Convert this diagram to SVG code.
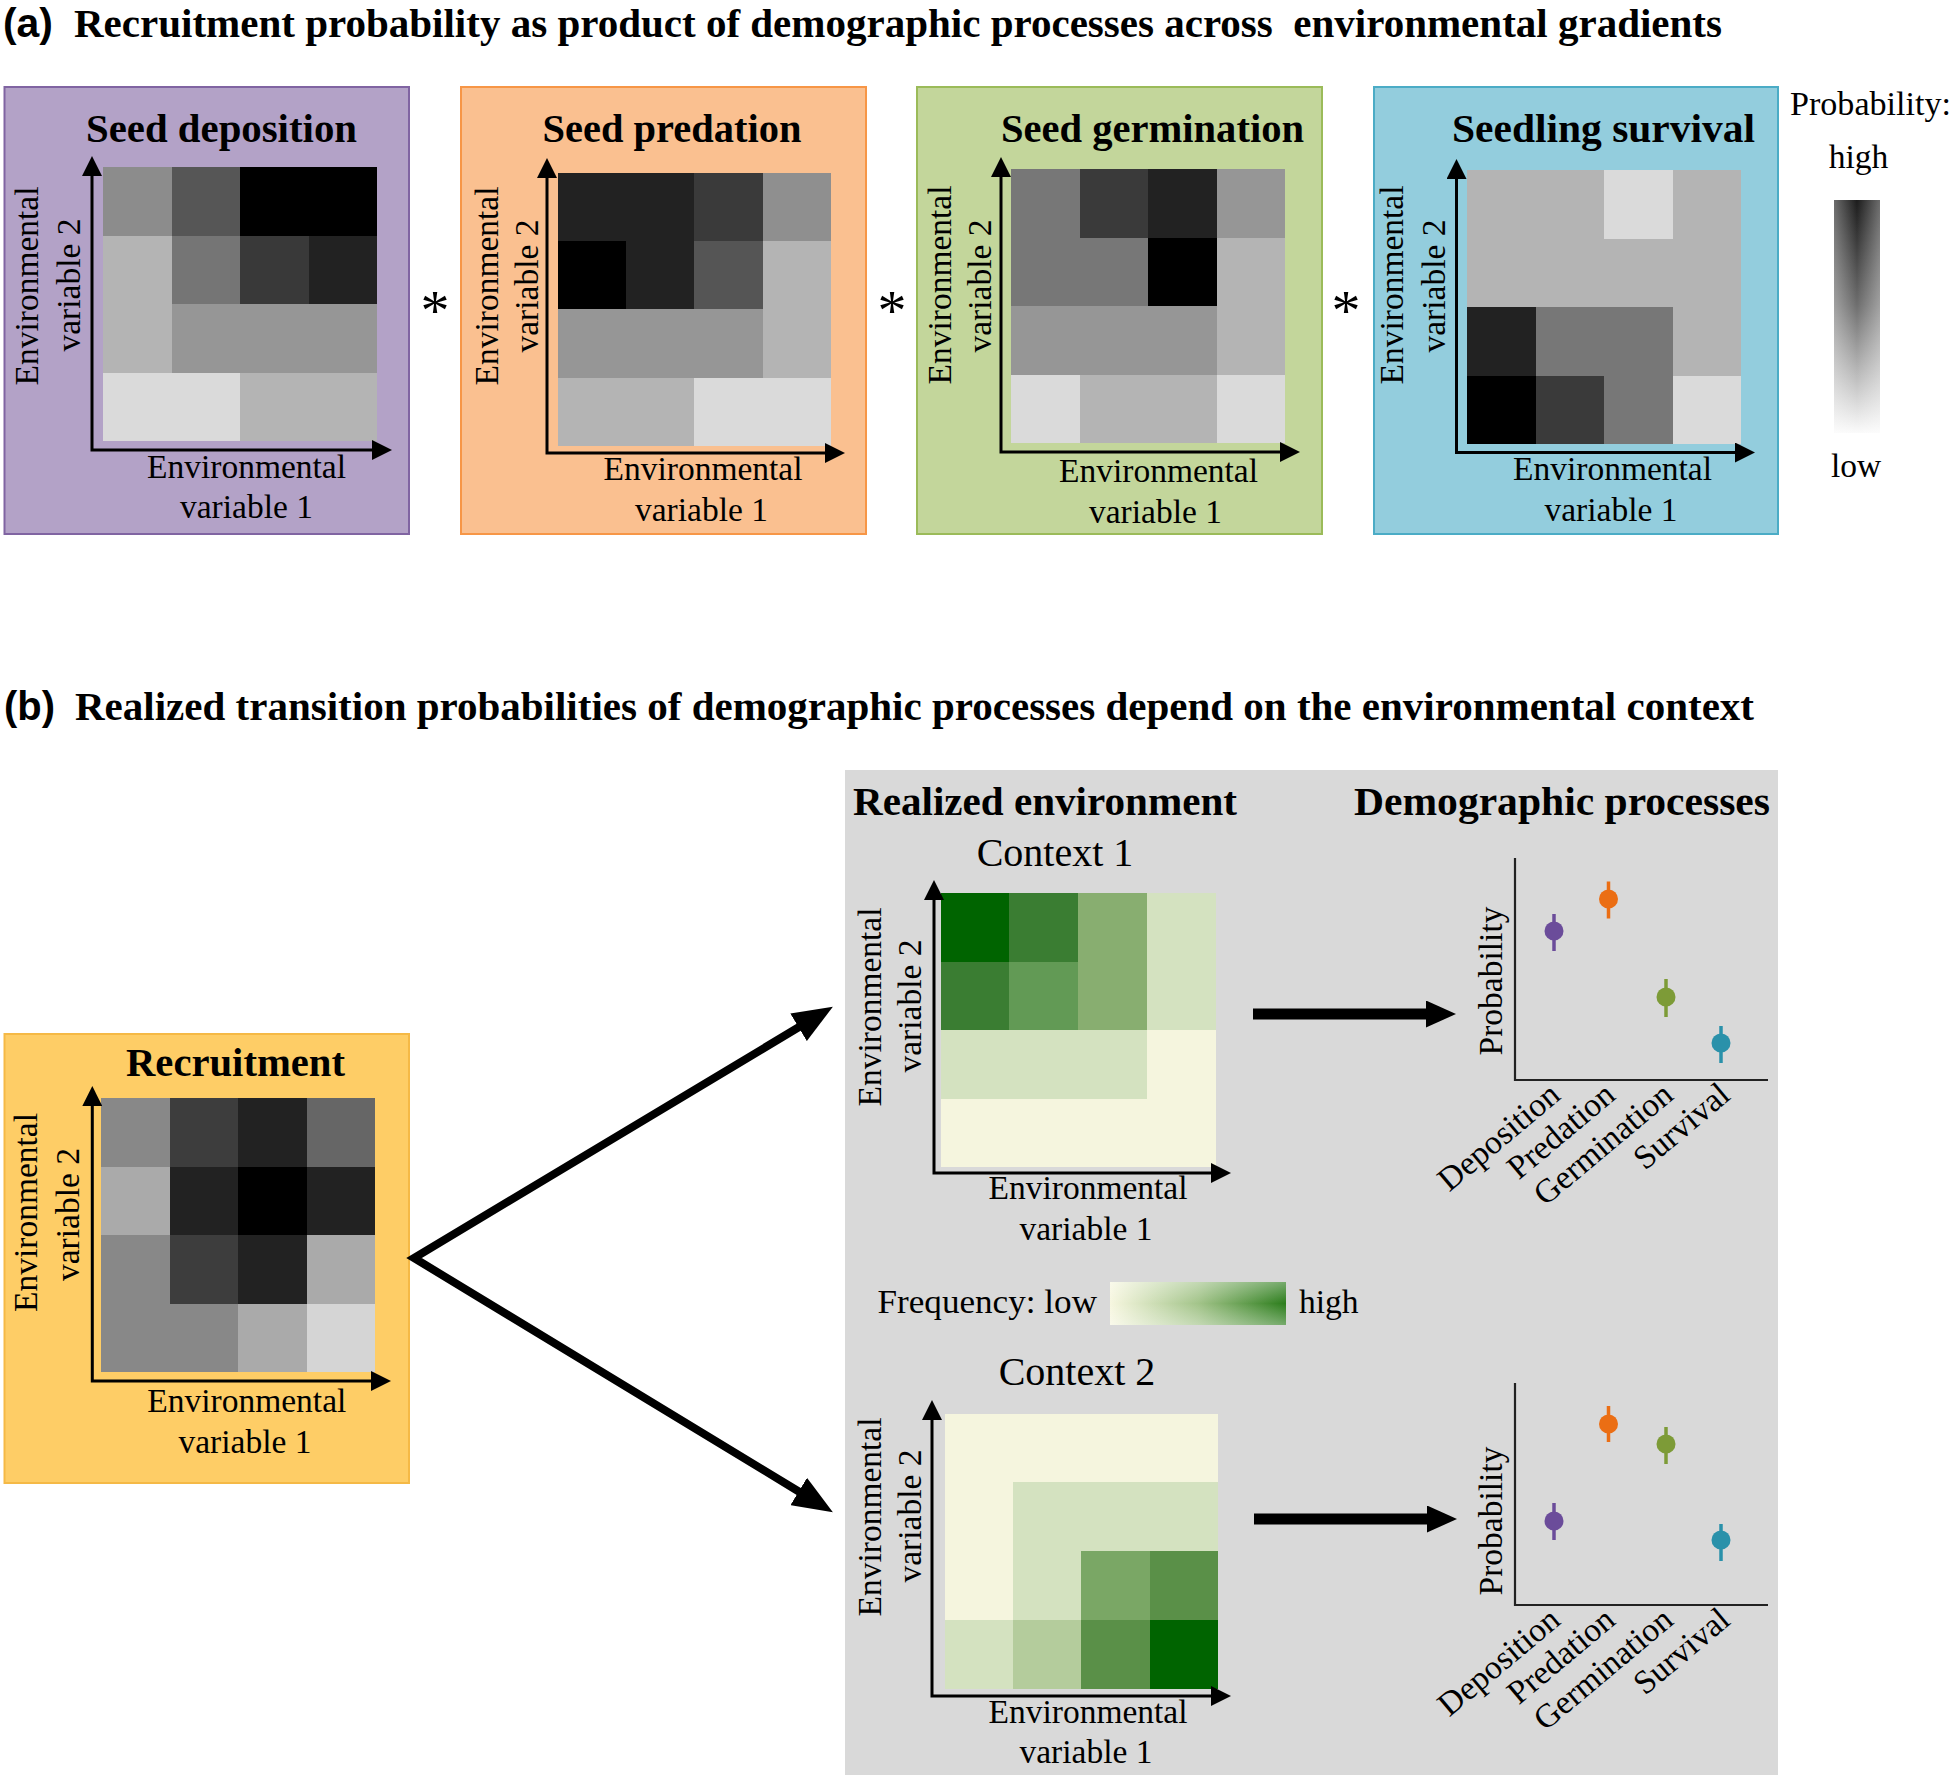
<svg xmlns="http://www.w3.org/2000/svg" width="1955" height="1780" viewBox="0 0 1955 1780">
<style>
.t{font-family:"Liberation Serif","Times New Roman",serif;fill:#000}
.b{font-weight:bold;font-size:40px}
.r{font-size:33.5px}
.c{font-size:40px}
.m{text-anchor:middle}
.e{text-anchor:end}
.ast{font-size:58px}
.lbl{font-family:"Liberation Sans",Arial,sans-serif;font-weight:bold;font-size:40px}
.ax{fill:none;stroke:#000;stroke-width:3;marker-start:url(#ah);marker-end:url(#ah)}
.pax{fill:none;stroke:#222;stroke-width:2.2}
.cell rect{shape-rendering:crispEdges}
</style>
<defs>
<marker id="ah" markerUnits="userSpaceOnUse" markerWidth="20" markerHeight="20" viewBox="0 0 20 20" refX="10" refY="10" orient="auto-start-reverse"><path d="M0,0 L20,10 L0,20 z" fill="#000"/></marker>
<marker id="bh" markerUnits="userSpaceOnUse" markerWidth="30" markerHeight="27" viewBox="0 0 30 27" refX="1" refY="13.5" orient="auto-start-reverse"><path d="M0,0 L30,13.5 L0,27 z" fill="#000"/></marker>
<marker id="dh" markerUnits="userSpaceOnUse" markerWidth="40" markerHeight="32" viewBox="0 0 40 32" refX="2" refY="16" orient="auto-start-reverse"><path d="M0,0 L40,16 L0,32 z" fill="#000"/></marker>
<linearGradient id="pg" x1="0" y1="0" x2="0" y2="1"><stop offset="0" stop-color="#1c1c1c"/><stop offset="0.45" stop-color="#6e6e6e"/><stop offset="1" stop-color="#fbfbfb"/></linearGradient>
<linearGradient id="ph" x1="0" y1="0" x2="1" y2="0"><stop offset="0" stop-color="#fff" stop-opacity="0.35"/><stop offset="0.5" stop-color="#fff" stop-opacity="0"/><stop offset="1" stop-color="#fff" stop-opacity="0.35"/></linearGradient>
<linearGradient id="fg" x1="0" y1="0" x2="1" y2="0"><stop offset="0" stop-color="#f7f7e0"/><stop offset="0.5" stop-color="#a3c48a"/><stop offset="1" stop-color="#2c7d1c"/></linearGradient>
<linearGradient id="fv" x1="0" y1="0" x2="0" y2="1"><stop offset="0" stop-color="#fff" stop-opacity="0.35"/><stop offset="0.5" stop-color="#fff" stop-opacity="0"/><stop offset="1" stop-color="#fff" stop-opacity="0.35"/></linearGradient>
</defs>
<rect width="1955" height="1780" fill="#fff"/>

<!-- Titles -->
<g id="title-a">
<text class="lbl" x="3" y="37" textLength="50" lengthAdjust="spacingAndGlyphs">(a)</text>
<text class="t b" x="74" y="37" textLength="1648" lengthAdjust="spacingAndGlyphs" xml:space="preserve">Recruitment probability as product of demographic processes across  environmental gradients</text>
</g>
<g id="title-b">
<text class="lbl" x="4" y="720" textLength="51" lengthAdjust="spacingAndGlyphs">(b)</text>
<text class="t b" x="75" y="720" textLength="1679" lengthAdjust="spacingAndGlyphs">Realized transition probabilities of demographic processes depend on the environmental context</text>
</g>

<!-- Panel a: Seed deposition -->
<g id="seed-deposition">
<rect x="4.5" y="87" width="404.5" height="447" fill="#b3a2c7" stroke="#8064a2" stroke-width="2"/>
<text class="t b m" x="221.5" y="141.5" textLength="271" lengthAdjust="spacingAndGlyphs">Seed deposition</text>
<g class="cell">
<rect x="103" y="167" width="69" height="69" fill="#8c8c8c"/><rect x="171.5" y="167" width="69" height="69" fill="#565656"/><rect x="240" y="167" width="69" height="69" fill="#000"/><rect x="308.5" y="167" width="68.5" height="69" fill="#000"/>
<rect x="103" y="235.5" width="69" height="69" fill="#b4b4b4"/><rect x="171.5" y="235.5" width="69" height="69" fill="#757575"/><rect x="240" y="235.5" width="69" height="69" fill="#393939"/><rect x="308.5" y="235.5" width="68.5" height="69" fill="#222"/>
<rect x="103" y="304" width="69" height="69" fill="#b4b4b4"/><rect x="171.5" y="304" width="69" height="69" fill="#969696"/><rect x="240" y="304" width="69" height="69" fill="#969696"/><rect x="308.5" y="304" width="68.5" height="69" fill="#969696"/>
<rect x="103" y="372.5" width="69" height="68.5" fill="#dadada"/><rect x="171.5" y="372.5" width="69" height="68.5" fill="#dadada"/><rect x="240" y="372.5" width="69" height="68.5" fill="#b4b4b4"/><rect x="308.5" y="372.5" width="68.5" height="68.5" fill="#b4b4b4"/>
</g>
<path class="ax" d="M92,166 V450 H382"/>
<text class="t r m" transform="translate(38,286) rotate(-90)">Environmental</text>
<text class="t r m" transform="translate(80,285) rotate(-90)">variable 2</text>
<text class="t r m" x="246.5" y="478">Environmental</text>
<text class="t r m" x="246.5" y="518">variable 1</text>
</g>
<text class="t m ast" x="435" y="330">*</text>

<!-- Seed predation -->
<g id="seed-predation">
<rect x="461" y="87" width="405" height="447" fill="#fac090" stroke="#f79646" stroke-width="2"/>
<text class="t b m" x="672" y="141.5" textLength="259" lengthAdjust="spacingAndGlyphs">Seed predation</text>
<g class="cell">
<rect x="557.5" y="172.5" width="69" height="69" fill="#222"/><rect x="625.9" y="172.5" width="69" height="69" fill="#222"/><rect x="694.3" y="172.5" width="69" height="69" fill="#3a3a3a"/><rect x="762.7" y="172.5" width="68.4" height="69" fill="#8f8f8f"/>
<rect x="557.5" y="240.9" width="69" height="69" fill="#000"/><rect x="625.9" y="240.9" width="69" height="69" fill="#222"/><rect x="694.3" y="240.9" width="69" height="69" fill="#555"/><rect x="762.7" y="240.9" width="68.4" height="69" fill="#b4b4b4"/>
<rect x="557.5" y="309.3" width="69" height="69" fill="#969696"/><rect x="625.9" y="309.3" width="69" height="69" fill="#969696"/><rect x="694.3" y="309.3" width="69" height="69" fill="#969696"/><rect x="762.7" y="309.3" width="68.4" height="69" fill="#b4b4b4"/>
<rect x="557.5" y="377.7" width="69" height="68.4" fill="#b4b4b4"/><rect x="625.9" y="377.7" width="69" height="68.4" fill="#b4b4b4"/><rect x="694.3" y="377.7" width="69" height="68.4" fill="#dadada"/><rect x="762.7" y="377.7" width="68.4" height="68.4" fill="#dadada"/>
</g>
<path class="ax" d="M547,168 V453 H835"/>
<text class="t r m" transform="translate(498,286) rotate(-90)">Environmental</text>
<text class="t r m" transform="translate(538,286) rotate(-90)">variable 2</text>
<text class="t r m" x="703" y="480">Environmental</text>
<text class="t r m" x="701.5" y="521">variable 1</text>
</g>
<text class="t m ast" x="892" y="330">*</text>

<!-- Seed germination -->
<g id="seed-germination">
<rect x="917" y="87" width="405" height="447" fill="#c3d69b" stroke="#9bbb59" stroke-width="2"/>
<text class="t b m" x="1152.5" y="141.5" textLength="303" lengthAdjust="spacingAndGlyphs">Seed germination</text>
<g class="cell">
<rect x="1011" y="169" width="69" height="69" fill="#777"/><rect x="1079.6" y="169" width="69" height="69" fill="#3a3a3a"/><rect x="1148.2" y="169" width="69" height="69" fill="#222"/><rect x="1216.8" y="169" width="68.6" height="69" fill="#969696"/>
<rect x="1011" y="237.6" width="69" height="69" fill="#777"/><rect x="1079.6" y="237.6" width="69" height="69" fill="#777"/><rect x="1148.2" y="237.6" width="69" height="69" fill="#000"/><rect x="1216.8" y="237.6" width="68.6" height="69" fill="#b4b4b4"/>
<rect x="1011" y="306.2" width="69" height="69" fill="#969696"/><rect x="1079.6" y="306.2" width="69" height="69" fill="#969696"/><rect x="1148.2" y="306.2" width="69" height="69" fill="#969696"/><rect x="1216.8" y="306.2" width="68.6" height="69" fill="#b4b4b4"/>
<rect x="1011" y="374.8" width="69" height="68.6" fill="#dadada"/><rect x="1079.6" y="374.8" width="69" height="68.6" fill="#b4b4b4"/><rect x="1148.2" y="374.8" width="69" height="68.6" fill="#b4b4b4"/><rect x="1216.8" y="374.8" width="68.6" height="68.6" fill="#dadada"/>
</g>
<path class="ax" d="M1001,167 V452 H1290"/>
<text class="t r m" transform="translate(951,285) rotate(-90)">Environmental</text>
<text class="t r m" transform="translate(991,286) rotate(-90)">variable 2</text>
<text class="t r m" x="1158.5" y="482">Environmental</text>
<text class="t r m" x="1155.5" y="523">variable 1</text>
</g>
<text class="t m ast" x="1346" y="330">*</text>

<!-- Seedling survival -->
<g id="seedling-survival">
<rect x="1374" y="87" width="404" height="447" fill="#93cddd" stroke="#4bacc6" stroke-width="2"/>
<text class="t b m" x="1603.5" y="141.5" textLength="303" lengthAdjust="spacingAndGlyphs">Seedling survival</text>
<g class="cell">
<rect x="1467" y="170" width="69" height="69" fill="#b4b4b4"/><rect x="1535.5" y="170" width="69" height="69" fill="#b4b4b4"/><rect x="1604" y="170" width="69" height="69" fill="#dadada"/><rect x="1672.5" y="170" width="68.5" height="69" fill="#b4b4b4"/>
<rect x="1467" y="238.5" width="69" height="69" fill="#b4b4b4"/><rect x="1535.5" y="238.5" width="69" height="69" fill="#b4b4b4"/><rect x="1604" y="238.5" width="69" height="69" fill="#b4b4b4"/><rect x="1672.5" y="238.5" width="68.5" height="69" fill="#b4b4b4"/>
<rect x="1467" y="307" width="69" height="69" fill="#222"/><rect x="1535.5" y="307" width="69" height="69" fill="#777"/><rect x="1604" y="307" width="69" height="69" fill="#777"/><rect x="1672.5" y="307" width="68.5" height="69" fill="#b4b4b4"/>
<rect x="1467" y="375.5" width="69" height="68.5" fill="#000"/><rect x="1535.5" y="375.5" width="69" height="68.5" fill="#3a3a3a"/><rect x="1604" y="375.5" width="69" height="68.5" fill="#777"/><rect x="1672.5" y="375.5" width="68.5" height="68.5" fill="#dadada"/>
</g>
<path class="ax" d="M1456.5,169 V452.5 H1745"/>
<text class="t r m" transform="translate(1403,285) rotate(-90)">Environmental</text>
<text class="t r m" transform="translate(1445,286) rotate(-90)">variable 2</text>
<text class="t r m" x="1612.5" y="480">Environmental</text>
<text class="t r m" x="1611" y="521">variable 1</text>
</g>

<!-- Probability legend -->
<g id="probability-legend">
<text class="t r" x="1790" y="115" textLength="161" lengthAdjust="spacingAndGlyphs">Probability:</text>
<text class="t r m" x="1858.5" y="168">high</text>
<rect x="1834" y="200" width="46" height="233" fill="url(#pg)"/>
<rect x="1834" y="200" width="46" height="233" fill="url(#ph)"/>
<text class="t r m" x="1856" y="477">low</text>
</g>

<!-- Panel b -->
<rect id="realized-panel" x="845" y="770" width="933" height="1005" fill="#d9d9d9"/>

<g id="recruitment">
<rect x="4.5" y="1034" width="404.5" height="449" fill="#fecd66" stroke="#f5b946" stroke-width="2"/>
<text class="t b m" x="235.5" y="1076" textLength="219" lengthAdjust="spacingAndGlyphs">Recruitment</text>
<g class="cell">
<rect x="101" y="1098" width="69" height="69" fill="#888"/><rect x="169.5" y="1098" width="69" height="69" fill="#3d3d3d"/><rect x="238" y="1098" width="69" height="69" fill="#222"/><rect x="306.5" y="1098" width="68.5" height="69" fill="#666"/>
<rect x="101" y="1166.5" width="69" height="69" fill="#aaa"/><rect x="169.5" y="1166.5" width="69" height="69" fill="#222"/><rect x="238" y="1166.5" width="69" height="69" fill="#000"/><rect x="306.5" y="1166.5" width="68.5" height="69" fill="#222"/>
<rect x="101" y="1235" width="69" height="69" fill="#888"/><rect x="169.5" y="1235" width="69" height="69" fill="#3d3d3d"/><rect x="238" y="1235" width="69" height="69" fill="#222"/><rect x="306.5" y="1235" width="68.5" height="69" fill="#aaa"/>
<rect x="101" y="1303.5" width="69" height="68.5" fill="#888"/><rect x="169.5" y="1303.5" width="69" height="68.5" fill="#888"/><rect x="238" y="1303.5" width="69" height="68.5" fill="#aaa"/><rect x="306.5" y="1303.5" width="68.5" height="68.5" fill="#d5d5d5"/>
</g>
<path class="ax" d="M92.3,1096 V1381 H381"/>
<text class="t r m" transform="translate(37,1212.5) rotate(-90)">Environmental</text>
<text class="t r m" transform="translate(79,1214.5) rotate(-90)">variable 2</text>
<text class="t r m" x="246.8" y="1412">Environmental</text>
<text class="t r m" x="245" y="1453">variable 1</text>
</g>

<text class="t b" x="853" y="815" textLength="384" lengthAdjust="spacingAndGlyphs">Realized environment</text>
<text class="t b" x="1354" y="815" textLength="416" lengthAdjust="spacingAndGlyphs">Demographic processes</text>

<g id="context-1">
<text class="t c m" x="1055" y="866">Context 1</text>
<g class="cell">
<rect x="940.5" y="893" width="69.3" height="69" fill="#006400"/><rect x="1009.3" y="893" width="69.3" height="69" fill="#3a7d32"/><rect x="1078.1" y="893" width="69.3" height="69" fill="#88ae70"/><rect x="1146.9" y="893" width="68.8" height="69" fill="#d4e2c0"/>
<rect x="940.5" y="961.5" width="69.3" height="69" fill="#3a7d32"/><rect x="1009.3" y="961.5" width="69.3" height="69" fill="#629a55"/><rect x="1078.1" y="961.5" width="69.3" height="69" fill="#88ae70"/><rect x="1146.9" y="961.5" width="68.8" height="69" fill="#d4e2c0"/>
<rect x="940.5" y="1030" width="69.3" height="69" fill="#d4e2c0"/><rect x="1009.3" y="1030" width="69.3" height="69" fill="#d4e2c0"/><rect x="1078.1" y="1030" width="69.3" height="69" fill="#d4e2c0"/><rect x="1146.9" y="1030" width="68.8" height="69" fill="#f5f5de"/>
<rect x="940.5" y="1098.5" width="69.3" height="68.5" fill="#f5f5de"/><rect x="1009.3" y="1098.5" width="69.3" height="68.5" fill="#f5f5de"/><rect x="1078.1" y="1098.5" width="69.3" height="68.5" fill="#f5f5de"/><rect x="1146.9" y="1098.5" width="68.8" height="68.5" fill="#f5f5de"/>
</g>
<path class="ax" d="M934,890 V1173 H1221"/>
<text class="t r m" transform="translate(881,1007) rotate(-90)">Environmental</text>
<text class="t r m" transform="translate(921,1006) rotate(-90)">variable 2</text>
<text class="t r m" x="1088" y="1199">Environmental</text>
<text class="t r m" x="1086" y="1240">variable 1</text>
</g>

<g id="frequency-legend">
<text class="t r" x="877.5" y="1313" textLength="219.5" lengthAdjust="spacingAndGlyphs">Frequency: low</text>
<rect x="1110" y="1282" width="176" height="43" fill="url(#fg)"/>
<rect x="1110" y="1282" width="176" height="43" fill="url(#fv)"/>
<text class="t r" x="1299" y="1313">high</text>
</g>

<g id="context-2">
<text class="t c m" x="1077" y="1385">Context 2</text>
<g class="cell">
<rect x="944.5" y="1413.5" width="68.9" height="69.3" fill="#f5f5de"/><rect x="1012.9" y="1413.5" width="68.9" height="69.3" fill="#f5f5de"/><rect x="1081.3" y="1413.5" width="68.9" height="69.3" fill="#f5f5de"/><rect x="1149.7" y="1413.5" width="68.4" height="69.3" fill="#f5f5de"/>
<rect x="944.5" y="1482.25" width="68.9" height="69.3" fill="#f5f5de"/><rect x="1012.9" y="1482.25" width="68.9" height="69.3" fill="#d4e2c0"/><rect x="1081.3" y="1482.25" width="68.9" height="69.3" fill="#d4e2c0"/><rect x="1149.7" y="1482.25" width="68.4" height="69.3" fill="#d4e2c0"/>
<rect x="944.5" y="1551" width="68.9" height="69.3" fill="#f5f5de"/><rect x="1012.9" y="1551" width="68.9" height="69.3" fill="#d4e2c0"/><rect x="1081.3" y="1551" width="68.9" height="69.3" fill="#7aa765"/><rect x="1149.7" y="1551" width="68.4" height="69.3" fill="#5a9048"/>
<rect x="944.5" y="1619.75" width="68.9" height="68.75" fill="#d4e2c0"/><rect x="1012.9" y="1619.75" width="68.9" height="68.75" fill="#b4cc9c"/><rect x="1081.3" y="1619.75" width="68.9" height="68.75" fill="#5a9048"/><rect x="1149.7" y="1619.75" width="68.4" height="68.75" fill="#006400"/>
</g>
<path class="ax" d="M932,1410 V1696 H1221"/>
<text class="t r m" transform="translate(881,1517) rotate(-90)">Environmental</text>
<text class="t r m" transform="translate(921,1516) rotate(-90)">variable 2</text>
<text class="t r m" x="1088" y="1723">Environmental</text>
<text class="t r m" x="1086" y="1763">variable 1</text>
</g>

<g id="plot-1">
<path class="pax" d="M1515,858 V1080 H1768"/>
<text class="t r m" transform="translate(1502,981) rotate(-90)">Probability</text>
<line x1="1554" y1="914" x2="1554" y2="951" stroke="#6b4c9a" stroke-width="3.5"/><circle cx="1554" cy="931" r="9.5" fill="#6b4c9a"/>
<line x1="1608.5" y1="881.5" x2="1608.5" y2="918.5" stroke="#eb6e14" stroke-width="3.5"/><circle cx="1608.5" cy="899" r="9.5" fill="#eb6e14"/>
<line x1="1666" y1="979" x2="1666" y2="1017" stroke="#7d9b37" stroke-width="3.5"/><circle cx="1666" cy="997" r="9.5" fill="#7d9b37"/>
<line x1="1721" y1="1026" x2="1721" y2="1063" stroke="#2a91aa" stroke-width="3.5"/><circle cx="1721" cy="1043" r="9.5" fill="#2a91aa"/>
<text class="t r e" transform="translate(1562,1098) rotate(-40)">Deposition</text>
<text class="t r e" transform="translate(1617,1098) rotate(-40)">Predation</text>
<text class="t r e" transform="translate(1675,1098) rotate(-40)">Germination</text>
<text class="t r e" transform="translate(1732,1098) rotate(-40)">Survival</text>
</g>

<g id="plot-2">
<path class="pax" d="M1515,1383 V1605 H1768"/>
<text class="t r m" transform="translate(1502,1521) rotate(-90)">Probability</text>
<line x1="1554" y1="1503" x2="1554" y2="1540" stroke="#6b4c9a" stroke-width="3.5"/><circle cx="1554" cy="1521" r="9.5" fill="#6b4c9a"/>
<line x1="1608.5" y1="1406" x2="1608.5" y2="1442" stroke="#eb6e14" stroke-width="3.5"/><circle cx="1608.5" cy="1424" r="9.5" fill="#eb6e14"/>
<line x1="1666" y1="1427" x2="1666" y2="1464" stroke="#7d9b37" stroke-width="3.5"/><circle cx="1666" cy="1444" r="9.5" fill="#7d9b37"/>
<line x1="1721" y1="1524" x2="1721" y2="1561" stroke="#2a91aa" stroke-width="3.5"/><circle cx="1721" cy="1540" r="9.5" fill="#2a91aa"/>
<text class="t r e" transform="translate(1562,1623) rotate(-40)">Deposition</text>
<text class="t r e" transform="translate(1617,1623) rotate(-40)">Predation</text>
<text class="t r e" transform="translate(1675,1623) rotate(-40)">Germination</text>
<text class="t r e" transform="translate(1732,1623) rotate(-40)">Survival</text>
</g>

<g id="connectors">
<path d="M800.3,1026.3 L414,1258 L800.4,1492.5" fill="none" stroke="#000" stroke-width="8" stroke-linejoin="miter" marker-start="url(#dh)" marker-end="url(#dh)"/>
<line x1="1253" y1="1014" x2="1427" y2="1014" stroke="#000" stroke-width="11" marker-end="url(#bh)"/>
<line x1="1254" y1="1519" x2="1428" y2="1519" stroke="#000" stroke-width="11" marker-end="url(#bh)"/>
</g>
</svg>
